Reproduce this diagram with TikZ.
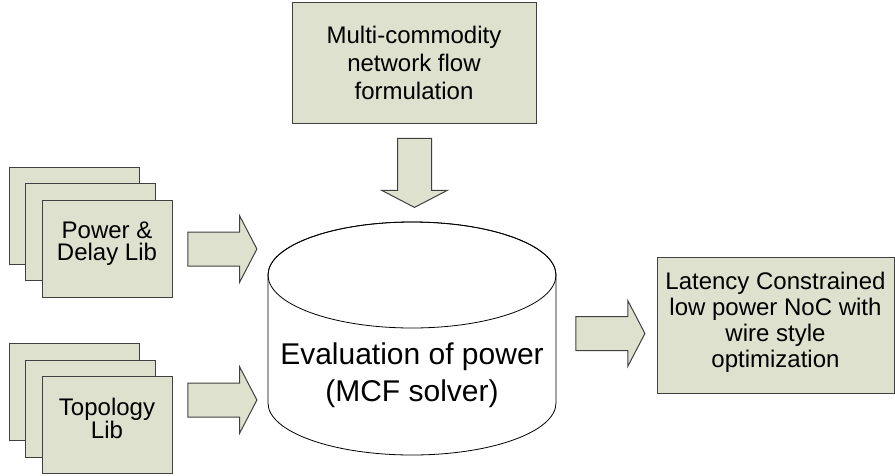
\documentclass[tikz,border=0pt]{standalone}
\usepackage{fontspec}
\setmainfont{Liberation Sans}
\usetikzlibrary{shapes.arrows}
\definecolor{boxfill}{RGB}{221,225,205}
\definecolor{boxline}{RGB}{64,64,64}
\tikzset{
  greenbox/.style={draw=boxline, fill=boxfill, line width=1pt, align=center, inner sep=0pt},
  libbox/.style={greenbox, minimum width=130pt, minimum height=97pt, text depth=14pt, font=\fontsize{24}{22}\selectfont},
  blockarrow/.style={single arrow, draw=boxline, fill=boxfill, line width=1pt, inner xsep=0pt, inner ysep=16.5pt,
    minimum height=69pt, single arrow head extend=16pt, single arrow tip angle=125}
}

\begin{document}
\begin{tikzpicture}[x=1pt, y=-1pt]
  \useasboundingbox (0,0) rectangle (895,475);
  % formulation on top
  \node[greenbox, minimum width=244pt, minimum height=121pt, font=\fontsize{24}{28}\selectfont] (mcf) at (414,62.5) {Multi-commodity\\network flow\\formulation};
  % solver (drum)
  \coordinate (solver) at (412,338.5);
  \draw[line width=0.8pt, fill=white] (268,275) -- (268,403) arc[start angle=180, end angle=0, x radius=144, y radius=52]
    -- (556,275) arc[start angle=0, end angle=-180, x radius=144, y radius=53] -- cycle;
  \draw[line width=0.8pt] (412,275) ellipse[x radius=144, y radius=53];
  \node[font=\fontsize{30}{37}\selectfont, align=center] (solvertext) at (412,375) {Evaluation of power\\(MCF solver)};
  % libraries
  \node[libbox] (powerback) at (74,215.5) {};
  \node[libbox] (powermid) at (90.5,232) {};
  \node[libbox] (power) at (107,248.5) {Power \&\\Delay Lib};
  \node[libbox] (topoback) at (74,392) {};
  \node[libbox] (topomid) at (90.5,408.5) {};
  \node[libbox] (topo) at (107,425) {Topology\\Lib};
  % result
  \node[greenbox, minimum width=237pt, minimum height=136pt, text depth=11pt, font=\fontsize{24}{26}\selectfont] (noc) at (775.5,325) {Latency Constrained\\low power NoC with\\wire style\\optimization};
  % arrows
  \node[blockarrow, rotate=-90] (mcfarrow) at (414.5,168.5) {};
  \node[blockarrow] (powerarrow) at (218,249) {};
  \node[blockarrow] (topoarrow) at (218,400) {};
  \node[blockarrow] (nocarrow) at (606,333.5) {};
\end{tikzpicture}
\end{document}
